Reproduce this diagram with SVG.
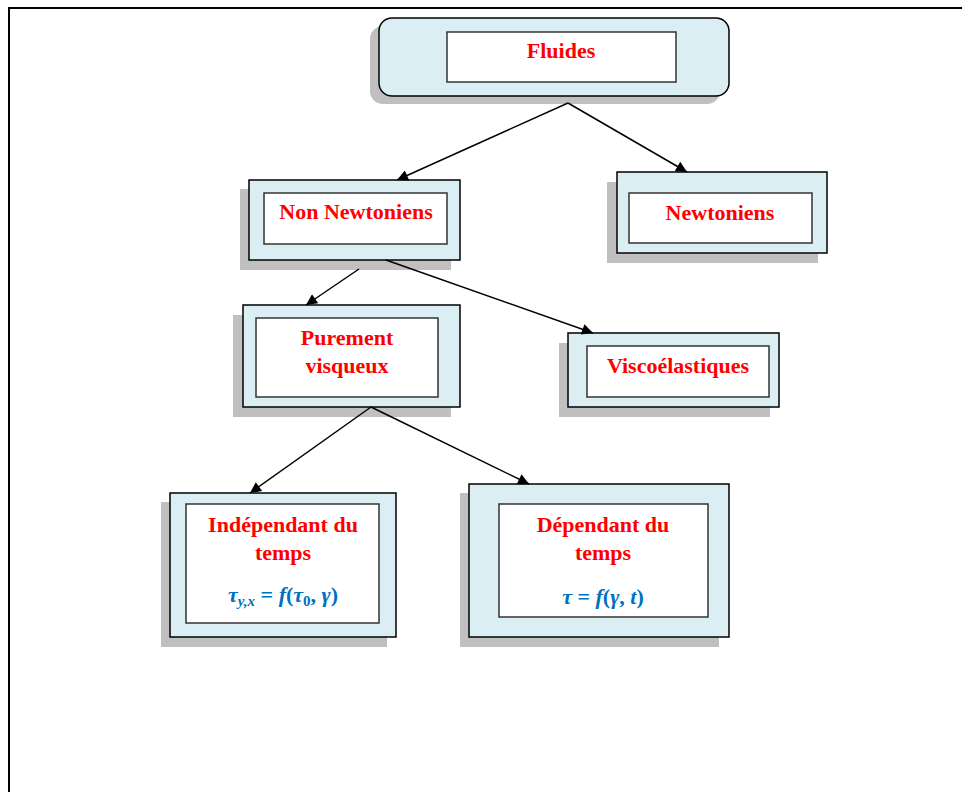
<svg xmlns="http://www.w3.org/2000/svg" width="962" height="792" viewBox="0 0 962 792">
<defs>
<style>
.shadow{fill:#c0c0c0;stroke:none}
.outer{fill:#daeef3;stroke:#000;stroke-width:1.5}
.inner{fill:#fff;stroke:#333;stroke-width:1.5}
.lbl{font-family:"Liberation Serif","Times New Roman",serif;font-weight:bold;font-size:22px;fill:#ff0000;text-anchor:middle}
.math{font-family:"Liberation Serif","Times New Roman",serif;font-weight:bold;font-size:22px;fill:#0070c0;text-anchor:middle}
.conn{stroke:#000;stroke-width:1.5;fill:none;marker-end:url(#arr)}
</style>
<marker id="arr" viewBox="0 0 10 10" refX="10" refY="5" markerWidth="13" markerHeight="11" markerUnits="userSpaceOnUse" orient="auto">
<path d="M0,0 L10,5 L0,10 Z" fill="#000"/>
</marker>
</defs>
<rect x="0" y="0" width="962" height="792" fill="#fff"/>
<path d="M9,792 V8 H962" fill="none" stroke="#000" stroke-width="2"/>

<g id="fluides">
<rect class="shadow" x="370" y="26" width="350" height="78" rx="13"/>
<rect class="outer" x="379" y="18" width="350" height="78" rx="13"/>
<rect class="inner" x="447" y="32" width="229" height="50"/>
<text class="lbl" x="561" y="58">Fluides</text>
</g>

<g id="non-newtoniens">
<rect class="shadow" x="240" y="189" width="211" height="81"/>
<rect class="outer" x="249" y="180" width="211" height="80"/>
<rect class="inner" x="264" y="193" width="183" height="51"/>
<text class="lbl" x="356" y="219">Non Newtoniens</text>
</g>

<g id="newtoniens">
<rect class="shadow" x="607" y="182" width="211" height="81"/>
<rect class="outer" x="617" y="172" width="210" height="81"/>
<rect class="inner" x="629" y="193" width="183" height="50"/>
<text class="lbl" x="720" y="220">Newtoniens</text>
</g>

<g id="purement-visqueux">
<rect class="shadow" x="233" y="315" width="218" height="102"/>
<rect class="outer" x="243" y="305" width="217" height="102"/>
<rect class="inner" x="256" y="318" width="182" height="79"/>
<text class="lbl" x="347" y="345">Purement</text>
<text class="lbl" x="347" y="373">visqueux</text>
</g>

<g id="viscoelastiques">
<rect class="shadow" x="559" y="343" width="211" height="74"/>
<rect class="outer" x="568" y="333" width="211" height="74"/>
<rect class="inner" x="587" y="346" width="182" height="51"/>
<text class="lbl" x="678" y="373">Viscoélastiques</text>
</g>

<g id="independant">
<rect class="shadow" x="161" y="502" width="226" height="145"/>
<rect class="outer" x="170" y="493" width="226" height="144"/>
<rect class="inner" x="186" y="504" width="193" height="119"/>
<text class="lbl" x="283" y="532">Indépendant du</text>
<text class="lbl" x="283" y="560">temps</text>
<text class="math" x="283" y="602"><tspan font-style="italic">τ</tspan><tspan font-style="italic" font-size="15" dy="4">y,x</tspan><tspan dy="-4"> = </tspan><tspan font-style="italic">f</tspan>(<tspan font-style="italic">τ</tspan><tspan font-size="15" dy="4">0</tspan><tspan dy="-4">, </tspan><tspan font-style="italic">γ</tspan>)</text>
</g>

<g id="dependant">
<rect class="shadow" x="460" y="493" width="259" height="154"/>
<rect class="outer" x="469" y="484" width="260" height="153"/>
<rect class="inner" x="499" y="504" width="209" height="113"/>
<text class="lbl" x="603" y="532">Dépendant du</text>
<text class="lbl" x="603" y="560">temps</text>
<text class="math" x="603" y="604"><tspan font-style="italic">τ</tspan> = <tspan font-style="italic">f</tspan>(<tspan font-style="italic">γ</tspan>, <tspan font-style="italic">t</tspan>)</text>
</g>

<g id="connectors">
<line class="conn" x1="568" y1="103" x2="397" y2="180"/>
<line class="conn" x1="568" y1="103" x2="687" y2="172"/>
<line class="conn" x1="359" y1="269" x2="306" y2="305"/>
<line class="conn" x1="386" y1="260" x2="593" y2="333"/>
<line class="conn" x1="371" y1="407" x2="250" y2="493"/>
<line class="conn" x1="371" y1="407" x2="529" y2="484"/>
</g>
</svg>
